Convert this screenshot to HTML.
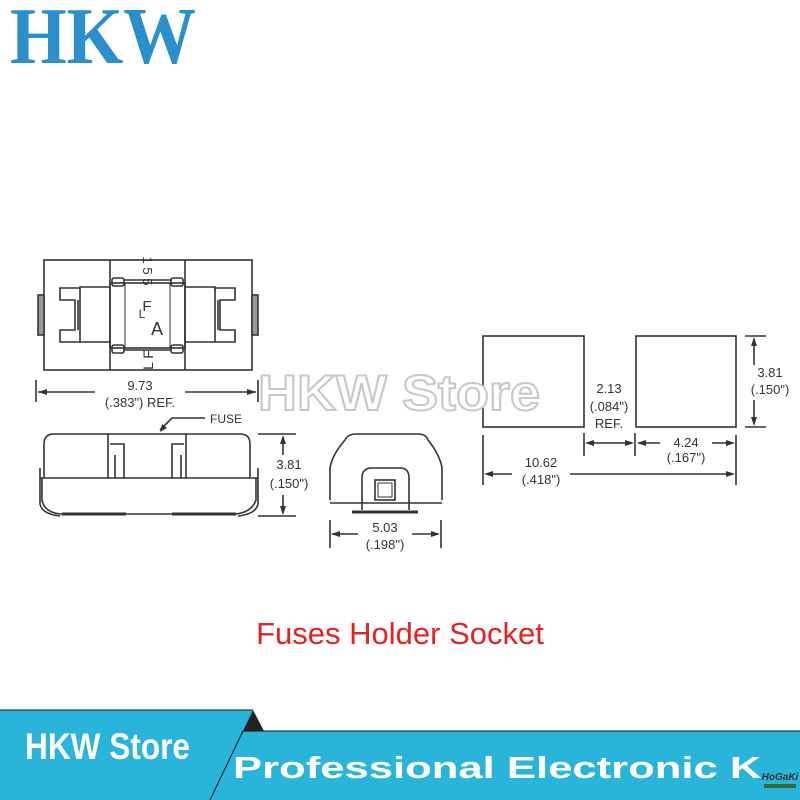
<!DOCTYPE html>
<html><head><meta charset="utf-8"><style>
html,body{margin:0;padding:0;background:#fff;}
svg{display:block}
</style></head><body>
<svg width="800" height="800" viewBox="0 0 800 800" xmlns="http://www.w3.org/2000/svg" font-family="Liberation Sans, Arial, sans-serif">
<rect width="800" height="800" fill="#fff"/>
<text x="10" y="63" font-family="Liberation Serif, serif" font-weight="bold" font-size="80" fill="#2b8fcc" textLength="186" lengthAdjust="spacingAndGlyphs">HKW</text>

<g stroke="#333" stroke-width="1.6" fill="none">
<rect x="44" y="260" width="208" height="110"/>
<line x1="110" y1="260" x2="110" y2="370"/><line x1="185" y1="260" x2="185" y2="370"/>
<rect x="110" y="283" width="75" height="65"/>
<line x1="125" y1="283" x2="125" y2="348" stroke-width="1"/><line x1="170" y1="283" x2="170" y2="348" stroke-width="1"/>
<rect x="112" y="278" width="12" height="8" rx="2"/><rect x="171" y="278" width="12" height="8" rx="2"/>
<rect x="112" y="345" width="12" height="8" rx="2"/><rect x="171" y="345" width="12" height="8" rx="2"/>
<line x1="124" y1="280" x2="171" y2="280"/><line x1="124" y1="350" x2="171" y2="350"/>
<path d="M110 287 H80 V288 H60 V300 H75 V330 H60 V342 H80 H110"/>
<line x1="80" y1="288" x2="80" y2="342"/>
<line x1="78" y1="300" x2="78" y2="330"/>
<path d="M185 287 H215 V288 H235 V300 H220 V330 H235 V342 H215 H185"/>
<line x1="215" y1="288" x2="215" y2="342"/>
<line x1="218" y1="300" x2="218" y2="330"/>
<rect x="38" y="295" width="6" height="40" fill="#999"/><rect x="252" y="295" width="6" height="40" fill="#999"/>
<line x1="36" y1="380" x2="36" y2="402"/><line x1="258" y1="380" x2="258" y2="402"/>
<line x1="38" y1="392" x2="95" y2="392"/><line x1="185" y1="392" x2="256" y2="392"/>
<path d="M44 478 V444 Q44 434 54 434 H240 Q250 434 250 444 V478"/>
<line x1="40" y1="478" x2="258" y2="478"/>
<path d="M42 478 V500 Q44 512 60 514 H236 Q252 512 256 500 V478"/>
<path d="M40 468 V504 Q42 514 60 516"/><path d="M258 468 V504 Q256 514 238 516"/>
<path d="M108 434 V478 M110 444 H124 V478 M115 455 V478"/>
<path d="M186 434 V478 M184 444 H172 V478 M181 455 V478"/>
<line x1="62" y1="514" x2="126" y2="514" stroke-width="3"/><line x1="172" y1="514" x2="236" y2="514" stroke-width="3"/>
<path d="M205 418 H172 L160 430"/>
<line x1="258" y1="434" x2="296" y2="434"/><line x1="258" y1="516" x2="296" y2="516"/>
<line x1="283" y1="437" x2="283" y2="455"/><line x1="283" y1="495" x2="283" y2="513"/>
<path d="M330 500 V468 Q332 455 345 440 Q348 434 356 434 H418 Q426 434 428 440 Q440 455 442 468 V500"/>
<line x1="330" y1="503" x2="442" y2="503"/>
<path d="M362 510 V478 Q362 468 372 468 H400 Q409 468 409 478 V510"/>
<rect x="375" y="480" width="20" height="20"/><rect x="378" y="483" width="14" height="14" stroke-width="1"/>
<line x1="352" y1="512" x2="418" y2="512" stroke-width="3"/>
<line x1="330" y1="520" x2="330" y2="548"/><line x1="441" y1="520" x2="441" y2="548"/>
<line x1="332" y1="534" x2="358" y2="534"/><line x1="412" y1="534" x2="438" y2="534"/>
<rect x="483" y="336" width="101" height="91"/><rect x="636" y="336" width="100" height="91"/>
<line x1="745" y1="336" x2="766" y2="336"/><line x1="745" y1="427" x2="766" y2="427"/>
<line x1="754" y1="339" x2="754" y2="365"/><line x1="754" y1="400" x2="754" y2="424"/>
<line x1="584" y1="433" x2="584" y2="456"/><line x1="635" y1="433" x2="635" y2="456"/>
<line x1="483" y1="435" x2="483" y2="485"/><line x1="736" y1="435" x2="736" y2="485"/>
<line x1="587" y1="443" x2="632" y2="443"/>
<line x1="638" y1="443" x2="660" y2="443"/><line x1="712" y1="443" x2="733" y2="443"/>
<line x1="486" y1="474" x2="512" y2="474"/><line x1="570" y1="474" x2="733" y2="474"/>
</g>
<g fill="#333">
<path d="M38 392 l9 -3 v6z M256 392 l-9 -3 v6z"/>
<path d="M160 432 l2 -8 l5 4z"/>
<path d="M283 435 l-3 9 h6z M283 515 l-3 -9 h6z"/>
<path d="M331 534 l9 -3 v6z M440 534 l-9 -3 v6z"/>
<path d="M754 337 l-3 9 h6z M754 426 l-3 -9 h6z"/>
<path d="M585 443 l9 -3 v6z M634 443 l-9 -3 v6z M637 443 l9 -3 v6z M735 443 l-9 -3 v6z"/>
<path d="M484 474 l9 -3 v6z M735 474 l-9 -3 v6z"/>
</g>
<g fill="#333" font-size="12" text-anchor="middle">
<text x="140" y="390" font-size="13">9.73</text>
<text x="140" y="407" font-size="13">(.383") REF.</text>
<text x="226" y="423" font-size="12">FUSE</text>
<text x="289" y="469" font-size="13">3.81</text>
<text x="289" y="488" font-size="13">(.150")</text>
<text x="385" y="532" font-size="13">5.03</text>
<text x="385" y="549" font-size="13">(.198")</text>
<text x="770" y="377" font-size="13">3.81</text>
<text x="770" y="394" font-size="13">(.150")</text>
<text x="609" y="393" font-size="13">2.13</text>
<text x="609" y="411" font-size="13">(.084")</text>
<text x="609" y="428" font-size="13">REF.</text>
<text x="686" y="447" font-size="13">4.24</text>
<text x="686" y="462" font-size="13">(.167")</text>
<text x="541" y="467" font-size="13">10.62</text>
<text x="541" y="484" font-size="13">(.418")</text>
<text x="147" y="311" font-size="15">F</text>
<text x="157" y="335" font-size="18">A</text>
<text x="142" y="318" font-size="12">L</text>
<g transform="translate(148,271) rotate(90)"><text x="0" y="5" font-size="13">1 5 5</text></g>
<g transform="translate(148,360) rotate(-90)"><text x="0" y="5" font-size="14">L F</text></g>
</g>
<text x="258" y="410" font-size="50" font-weight="bold" fill="#fff" stroke="#c8c8c8" stroke-width="2" textLength="282" lengthAdjust="spacingAndGlyphs">HKW Store</text>
<text x="400" y="644" text-anchor="middle" font-size="31" fill="#e52121">Fuses Holder Socket</text>

<polygon points="0,710 253,710 212,800 0,800" fill="#29b4d9"/>
<polygon points="243,731 800,731 800,800 210,800" fill="#29b4d9"/>
<polygon points="253,710 243,731 264,731" fill="#222"/>
<line x1="0" y1="710" x2="253" y2="710" stroke="#111" stroke-width="1"/>
<line x1="243" y1="731" x2="800" y2="731" stroke="#111" stroke-width="1"/>
<line x1="243" y1="731" x2="210" y2="800" stroke="#111" stroke-width="1"/>
<text x="25" y="759" font-size="37" font-weight="bold" fill="#fff" textLength="165" lengthAdjust="spacingAndGlyphs">HKW Store</text>
<text x="233" y="778" font-size="31" font-weight="bold" fill="#fff" textLength="555" lengthAdjust="spacingAndGlyphs">Professional Electronic Kit</text>
<rect x="762" y="752" width="36" height="40" fill="#29b4d9"/>
<text x="780" y="780" font-size="10" font-style="italic" font-weight="bold" text-anchor="middle" fill="#333">HoGaKi</text>
<rect x="764" y="784" width="32" height="4" fill="#3a6a3a"/>
</svg>
</body></html>
